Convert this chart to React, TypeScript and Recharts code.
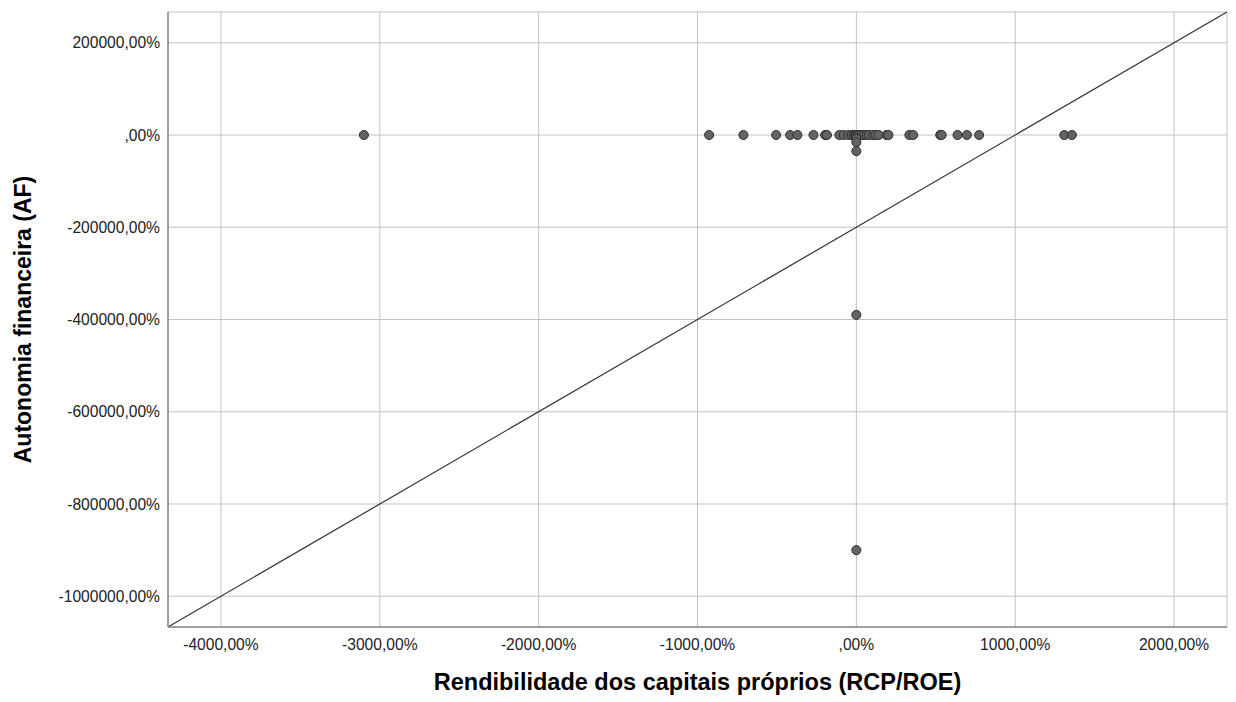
import {
  ScatterChart,
  Scatter,
  XAxis,
  YAxis,
  ZAxis,
  CartesianGrid,
  ReferenceLine,
} from "recharts";

// RCP/ROE (%) and AF (%) per company
const roeValues = [
  -3100, -927, -711, -505, -417, -371, -270, -197, -185, -107, -80, -50, -30,
  -15, -5, 0, 8, 20, 35, 50, 66, 80, 105, 120, 140, 190, 202, 334, 358, 528,
  537, 637, 696, 773, 1309, 1357, 0, 0, 0, 0, 0,
];
const afValues = [
  0, 0, 0, 0, 0, 0, 0, 0, 0, 0, 0, 0, 0, 0, 0, 0, 0, 0, 0, 0, 0, 0, 0, 0, 0,
  0, 0, 0, 0, 0, 0, 0, 0, 0, 0, 0, -8000, -16000, -35000, -390000, -900000,
];

const xTicks = [-4000, -3000, -2000, -1000, 0, 1000, 2000];
const yTicks = [-1000000, -800000, -600000, -400000, -200000, 0, 200000];

const X_DOMAIN: [number, number] = [-4333.33, 2333.33];
const Y_DOMAIN: [number, number] = [-1066667, 266667];

const data = roeValues.map((x, i) => ({ x, y: afValues[i] }));

const FONT = "'Liberation Sans', Arial, sans-serif";

const fmt = (v: number) => (v === 0 ? ",00%" : `${v},00%`);

const YTitle = ({ viewBox }: any) => {
  const cy = viewBox.y + viewBox.height / 2;
  return (
    <text
      x={31}
      y={cy}
      transform={`rotate(-90, 31, ${cy})`}
      textAnchor="middle"
      fontFamily={FONT}
      fontWeight="bold"
      fontSize={23}
      fill="#000"
    >
      Autonomia financeira (AF)
    </text>
  );
};

export default function App() {
  return (
    <div style={{ position: "absolute", left: 0, top: 0, background: "#fff" }}>
      <ScatterChart
        width={1236}
        height={702}
        margin={{ top: 12, right: 9, bottom: 0, left: 0 }}
      >
        <CartesianGrid stroke="#c2c2c2" strokeWidth={1} />
        <XAxis
          type="number"
          dataKey="x"
          domain={X_DOMAIN}
          ticks={xTicks}
          allowDataOverflow
          tickFormatter={fmt}
          height={75}
          tickLine={false}
          tickMargin={6}
          axisLine={{ stroke: "#888", strokeWidth: 1.5 }}
          tick={{ fontFamily: FONT, fontSize: 15.6, fill: "#222" }}
          label={{
            value: "Rendibilidade dos capitais próprios (RCP/ROE)",
            position: "insideBottom",
            offset: 12,
            fontFamily: FONT,
            fontWeight: "bold",
            fontSize: 23.5,
            fill: "#000",
          }}
        />
        <YAxis
          type="number"
          dataKey="y"
          domain={Y_DOMAIN}
          ticks={yTicks}
          allowDataOverflow
          tickFormatter={fmt}
          width={168}
          tickLine={false}
          axisLine={{ stroke: "#888", strokeWidth: 1.5 }}
          tick={{ fontFamily: FONT, fontSize: 15.6, fill: "#222" }}
          label={<YTitle />}
        />
        <ZAxis range={[100, 100]} />
        <ReferenceLine
          segment={[
            { x: X_DOMAIN[0], y: Y_DOMAIN[0] },
            { x: X_DOMAIN[1], y: Y_DOMAIN[1] },
          ]}
          stroke="#333"
          strokeWidth={1.2}
        />
        <Scatter
          data={data}
          fill="#636363"
          stroke="#2e2e2e"
          strokeWidth={1}
          isAnimationActive={false}
        />
      </ScatterChart>
    </div>
  );
}
